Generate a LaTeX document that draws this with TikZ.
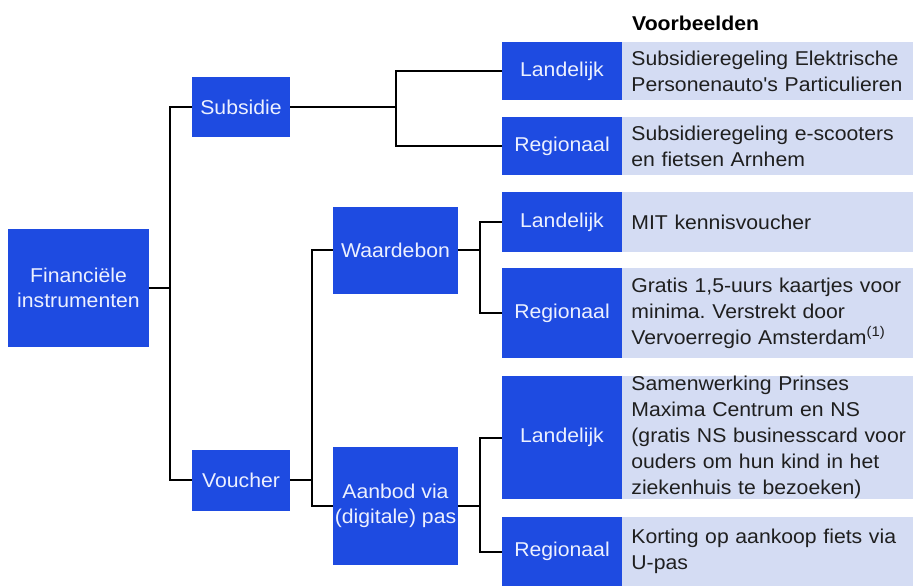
\documentclass[tikz,border=0pt]{standalone}
\usepackage{fontspec}
\setmainfont[FakeStretch=1.06,Ligatures=TeXOff]{Liberation Sans}
\usetikzlibrary{positioning}
\definecolor{boxblue}{RGB}{30,75,225}
\definecolor{descbg}{RGB}{212,220,243}
\definecolor{boxtext}{RGB}{236,240,255}
\frenchspacing

\begin{document}
\begin{tikzpicture}[x=1pt,y=-1pt,
  box/.style={fill=boxblue,text=boxtext,align=center,inner sep=2pt,
              font=\fontsize{20}{25}\selectfont},
  lvl/.style={box,minimum width=120pt},
  desc/.style={fill=descbg,text=black!88,align=left,text width=273pt,
               inner xsep=9pt,inner ysep=0pt,font=\fontsize{20}{26}\selectfont},
  conn/.style={line width=2pt}]
\useasboundingbox (0,0) rectangle (922,586);
% left part of the tree
\node[box,minimum width=141pt,minimum height=118pt] (root) at (78.5,288) {Financiële\\instrumenten};
\node[box,minimum width=98pt,minimum height=60pt] (subsidie) at (241,107) {Subsidie};
\node[box,minimum width=98pt,minimum height=61pt] (voucher) at (241,480) {Voucher};
\node[box,minimum width=125pt,minimum height=87pt] (waardebon) at (395.5,250) {Waardebon};
\node[box,minimum width=125pt,minimum height=118pt] (aanbod) at (395.5,506) {Aanbod via\\(digitale) pas};
% level boxes with examples
\node[anchor=base west,inner sep=0pt,font=\fontsize{20}{25}\selectfont\bfseries] (vb) at (632,31) {Voorbeelden};
\node[lvl,minimum height=58pt] (l1) at (562,71) {Landelijk};
\node[desc,right=0pt of l1,minimum height=58pt] (d1) {Subsidieregeling Elektrische\\Personenauto's Particulieren};
\node[lvl,minimum height=58pt] (r1) at (562,146) {Regionaal};
\node[desc,right=0pt of r1,minimum height=58pt] (d2) {Subsidieregeling e-scooters\\en fietsen Arnhem};
\node[lvl,minimum height=60pt] (l2) at (562,222) {Landelijk};
\node[desc,right=0pt of l2,minimum height=60pt] (d3) {MIT kennisvoucher};
\node[lvl,minimum height=90pt] (r2) at (562,313) {Regionaal};
\node[desc,right=0pt of r2,minimum height=90pt] (d4) {Gratis 1,5-uurs kaartjes voor\\minima. Verstrekt door\\Vervoerregio Amsterdam\textsuperscript{(1)}};
\node[lvl,minimum height=123pt] (l3) at (562,437.5) {Landelijk};
\node[desc,right=0pt of l3,minimum height=123pt] (d5) {Samenwerking Prinses\\Maxima Centrum en NS\\\mbox{(gratis NS businesscard voor}\\ouders om hun kind in het\\ziekenhuis te bezoeken)};
\node[lvl,minimum height=69pt] (r3) at (562,551.5) {Regionaal};
\node[desc,right=0pt of r3,minimum height=69pt] (d6) {Korting op aankoop fiets via\\U-pas};
% connectors
\coordinate (j1) at (170,288); \coordinate (j2) at (396,107); \coordinate (j3) at (312,480);
\coordinate (j4) at (480,250); \coordinate (j5) at (480,506);
\draw[conn] (root) -- (j1); \draw[conn] (subsidie.west) -| (j1) |- (voucher.west);
\draw[conn] (subsidie) -- (j2); \draw[conn] (l1.west) -| (j2) |- (r1.west);
\draw[conn] (voucher) -- (j3); \draw[conn] (waardebon.west) -| (j3) |- (aanbod.west);
\draw[conn] (waardebon) -- (j4); \draw[conn] (l2.west) -| (j4) |- (r2.west);
\draw[conn] (aanbod) -- (j5); \draw[conn] (l3.west) -| (j5) |- (r3.west);
\end{tikzpicture}
\end{document}
